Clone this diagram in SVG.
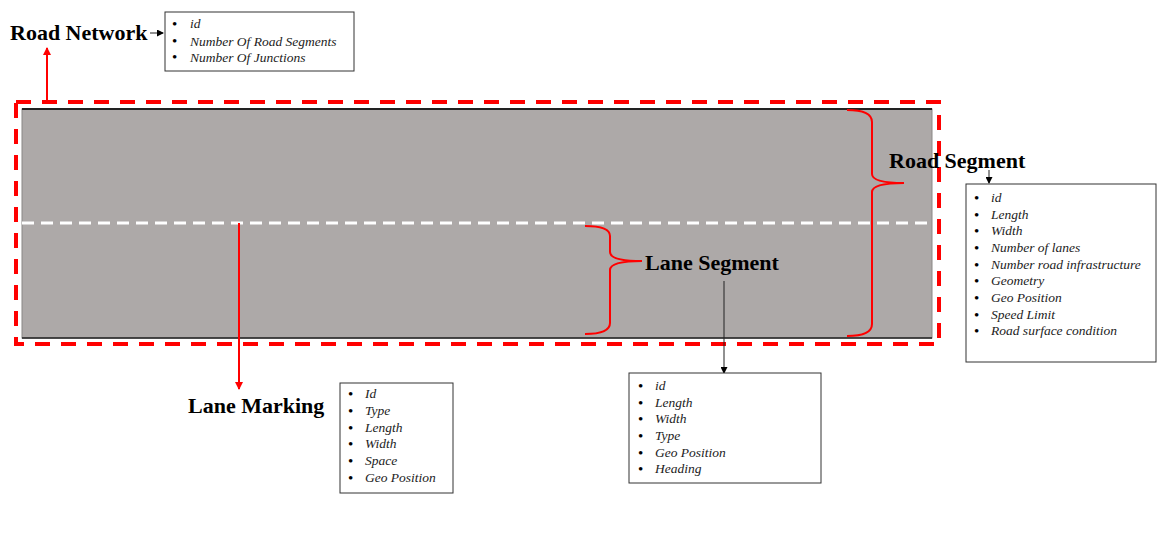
<svg xmlns="http://www.w3.org/2000/svg" width="1160" height="539" viewBox="0 0 1160 539">
<defs>
<style>
.lbl{font-family:"Liberation Serif","Times New Roman",serif;font-weight:bold;font-size:22px;fill:#000}
.item{font-family:"Liberation Serif","Times New Roman",serif;font-style:italic;font-size:13.5px;fill:#222}
.bul{font-family:"Liberation Serif","Times New Roman",serif;font-size:15px;fill:#000}
.box{fill:#fff;stroke:#333;stroke-width:1}
.red{stroke:#ff0000;stroke-width:2;fill:none}
.blk{stroke:#222;stroke-width:1;fill:none}
</style>
<marker id="ar" markerWidth="8" markerHeight="8" refX="7" refY="4" orient="auto" markerUnits="userSpaceOnUse">
<path d="M0,0 L8,4 L0,8 Z" fill="#ff0000"/>
</marker>
<marker id="ab" markerWidth="7" markerHeight="7" refX="6" refY="3.5" orient="auto" markerUnits="userSpaceOnUse">
<path d="M0,0 L7,3.5 L0,7 Z" fill="#000"/>
</marker>
</defs>
<rect width="1160" height="539" fill="#fff"/>

<g id="road">
<rect x="22" y="109" width="910" height="229" fill="#ada9a8" stroke="#8a8786" stroke-width="1"/>
<line x1="22" y1="109" x2="932" y2="109" stroke="#222" stroke-width="2"/>
<line x1="22" y1="338" x2="932" y2="338" stroke="#222" stroke-width="1.5"/>
<line id="lane-marking-line" x1="22" y1="223" x2="932" y2="223" stroke="#fff" stroke-width="3" stroke-dasharray="12 7"/>
</g>
<rect id="road-network-boundary" x="16" y="102" width="923" height="242" fill="none" stroke="#ff0000" stroke-width="4" stroke-dasharray="15 11"/>

<g id="braces">
<path class="red" d="M847,110 Q872,110 872,122 L872,174 Q872,183 904,183 Q872,183 872,192 L872,324 Q872,336 847,336"/>
<path class="red" d="M585,226 Q610,226 610,236 L610,252 Q610,261 642,261 Q610,261 610,270 L610,323 Q610,334 585,334"/>
</g>

<g id="connectors">
<line class="red" x1="47" y1="100" x2="47" y2="48" marker-end="url(#ar)"/>
<line class="blk" x1="150" y1="33" x2="163" y2="33" marker-end="url(#ab)"/>
<line class="blk" x1="989" y1="170" x2="989" y2="183" marker-end="url(#ab)"/>
<line class="blk" x1="724" y1="281" x2="724" y2="373" marker-end="url(#ab)"/>
<line class="red" x1="239" y1="223" x2="239" y2="389" marker-end="url(#ar)"/>
</g>

<g id="road-network">
<text class="lbl" x="10" y="40">Road Network</text>
<rect class="box" x="165" y="12" width="189" height="59"/>
<text class="bul" x="172" y="29">•</text><text class="item" x="190" y="28">id</text>
<text class="bul" x="172" y="46">•</text><text class="item" x="190" y="46">Number Of Road Segments</text>
<text class="bul" x="172" y="62">•</text><text class="item" x="190" y="62">Number Of Junctions</text>
</g>

<g id="road-segment">
<text class="lbl" x="889" y="168">Road Segment</text>
<rect class="box" x="966" y="184" width="190" height="178"/>
<g>
<text class="bul" x="974" y="203">•</text><text class="item" x="991" y="202">id</text>
<text class="bul" x="974" y="220">•</text><text class="item" x="991" y="219">Length</text>
<text class="bul" x="974" y="236">•</text><text class="item" x="991" y="235">Width</text>
<text class="bul" x="974" y="253">•</text><text class="item" x="991" y="252">Number of lanes</text>
<text class="bul" x="974" y="270">•</text><text class="item" x="991" y="269">Number road infrastructure</text>
<text class="bul" x="974" y="286">•</text><text class="item" x="991" y="285">Geometry</text>
<text class="bul" x="974" y="303">•</text><text class="item" x="991" y="302">Geo Position</text>
<text class="bul" x="974" y="320">•</text><text class="item" x="991" y="319">Speed Limit</text>
<text class="bul" x="974" y="336">•</text><text class="item" x="991" y="335">Road surface condition</text>
</g>
</g>

<g id="lane-segment">
<text class="lbl" x="645" y="270">Lane Segment</text>
<rect class="box" x="629" y="373" width="192" height="110"/>
<text class="bul" x="638" y="391">•</text><text class="item" x="655" y="390">id</text>
<text class="bul" x="638" y="408">•</text><text class="item" x="655" y="407">Length</text>
<text class="bul" x="638" y="424">•</text><text class="item" x="655" y="423">Width</text>
<text class="bul" x="638" y="441">•</text><text class="item" x="655" y="440">Type</text>
<text class="bul" x="638" y="458">•</text><text class="item" x="655" y="457">Geo Position</text>
<text class="bul" x="638" y="474">•</text><text class="item" x="655" y="473">Heading</text>
</g>

<g id="lane-marking">
<text class="lbl" x="188" y="413">Lane Marking</text>
<rect class="box" x="340" y="383" width="113" height="110"/>
<text class="bul" x="348" y="399">•</text><text class="item" x="365" y="398">Id</text>
<text class="bul" x="348" y="416">•</text><text class="item" x="365" y="415">Type</text>
<text class="bul" x="348" y="433">•</text><text class="item" x="365" y="432">Length</text>
<text class="bul" x="348" y="449">•</text><text class="item" x="365" y="448">Width</text>
<text class="bul" x="348" y="466">•</text><text class="item" x="365" y="465">Space</text>
<text class="bul" x="348" y="483">•</text><text class="item" x="365" y="482">Geo Position</text>
</g>
</svg>
